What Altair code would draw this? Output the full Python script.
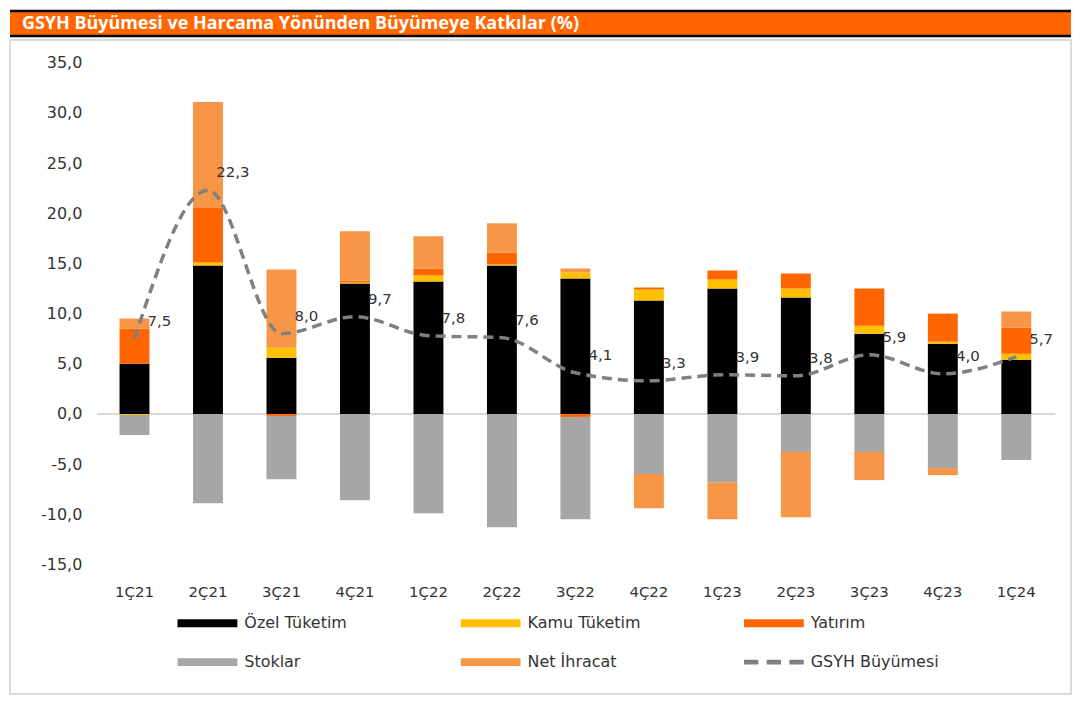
import altair as alt
import pandas as pd

title_text = "GSYH Büyümesi ve Harcama Yönünden Büyümeye Katkılar (%)"
quarters = ["1Ç21", "2Ç21", "3Ç21", "4Ç21", "1Ç22", "2Ç22", "3Ç22",
            "4Ç22", "1Ç23", "2Ç23", "3Ç23", "4Ç23", "1Ç24"]
ozel_tuketim = [5.0, 14.8, 5.6, 13.0, 13.2, 14.8, 13.5, 11.3, 12.5, 11.6, 8.0, 7.0, 5.4]
kamu_tuketim = [-0.1, 0.3, 1.0, 0.1, 0.6, 0.1, 0.6, 1.1, 0.9, 0.9, 0.8, 0.2, 0.6]
yatirim = [3.5, 5.5, -0.2, 0.2, 0.7, 1.2, -0.3, 0.2, 0.9, 1.5, 3.7, 2.8, 2.6]
stoklar = [-2.0, -8.9, -6.3, -8.6, -9.9, -11.3, -10.2, -6.0, -6.8, -3.8, -3.8, -5.4, -4.6]
net_ihracat = [1.0, 10.5, 7.8, 4.9, 3.2, 2.9, 0.4, -3.4, -3.7, -6.5, -2.8, -0.7, 1.6]
gsyh = [7.5, 22.3, 8.0, 9.7, 7.8, 7.6, 4.1, 3.3, 3.9, 3.8, 5.9, 4.0, 5.7]

series_names = ["Özel Tüketim", "Kamu Tüketim", "Yatırım", "Stoklar", "Net İhracat", "GSYH Büyümesi"]
series_colors = ["#000000", "#FFC000", "#FF6600", "#A6A6A6", "#F79646", "#808080"]
y_ticks = [-15, -10, -5, 0, 5, 10, 15, 20, 25, 30, 35]

FONT = "DejaVu Sans"
TXT = "#333333"

rows = []
for i, vals in enumerate([ozel_tuketim, kamu_tuketim, yatirim, stoklar, net_ihracat]):
    for q, v in zip(quarters, vals):
        rows.append({"quarter": q, "series": series_names[i], "idx": i, "value": v})
bars_df = pd.DataFrame(rows)

line_df = pd.DataFrame({
    "quarter": quarters,
    "value": gsyh,
    "label": [f"{v:.1f}".replace(".", ",") for v in gsyh],
})

legend_df = pd.DataFrame({"series": series_names, "idx": list(range(len(series_names)))})

W, H = 1064, 656
x_scale = alt.Scale(domain=quarters, range=[88, 1046], paddingInner=0, paddingOuter=0)
y_scale = alt.Scale(domain=[-15, 35], range=[526, 23], nice=False, zero=False)
color_scale = alt.Scale(domain=series_names, range=series_colors)

x_axis = alt.Axis(title=None, orient="bottom", offset=-(H - 553), domain=False, ticks=False,
                  tickSize=0, labelPadding=0, labelBaseline="middle", labelAngle=0,
                  labelFont=FONT, labelFontSize=15, labelColor=TXT, grid=False)
y_axis = alt.Axis(title=None, orient="left", offset=-72, domain=False, ticks=False, tickSize=0,
                  labelPadding=0, values=y_ticks, labelFont=FONT, labelFontSize=16,
                  labelColor=TXT, grid=False,
                  labelExpr="replace(replace(format(datum.value, '.1f'), '.', ','), '\u2212', '-')")

bars = alt.Chart(bars_df).mark_bar(size=30).encode(
    x=alt.X("quarter:N", scale=x_scale, axis=x_axis, sort=quarters),
    y=alt.Y("value:Q", scale=y_scale, axis=y_axis, stack="zero"),
    color=alt.Color("series:N", scale=color_scale, legend=None),
    order=alt.Order("idx:Q", sort="ascending"),
)

zero_rule = alt.Chart(line_df).mark_rule(color="#D9D9D9", strokeWidth=1.5).encode(
    y=alt.datum(0, scale=y_scale), x=alt.value(88), x2=alt.value(1048)
)

line = alt.Chart(line_df).mark_line(strokeDash=[10, 6], strokeWidth=3.5, interpolate="monotone",
                                    color=series_colors[5]).encode(
    x=alt.X("quarter:N", scale=x_scale, sort=quarters),
    y=alt.Y("value:Q", scale=y_scale),
)

labels = alt.Chart(line_df).mark_text(dx=25, dy=-18, fontSize=15, font=FONT, color=TXT).encode(
    x=alt.X("quarter:N", scale=x_scale, sort=quarters),
    y=alt.Y("value:Q", scale=y_scale),
    text="label:N",
)

plot = alt.layer(zero_rule, bars, line, labels)

# manual legend (3 columns x 2 rows)
bar_shape = "M-1,-0.13H1V0.13H-1Z"
dash_shape = "M-1,-0.08H-0.52V0.08H-1Z M-0.24,-0.08H0.24V0.08H-0.24Z M0.52,-0.08H1V0.08H0.52Z"
leg_base = alt.Chart(legend_df).transform_calculate(
    col="datum.idx % 3", row="floor(datum.idx / 3)"
)
leg_x = alt.X("col:Q", scale=alt.Scale(domain=[0, 2], range=[198, 766]), axis=None)
leg_y = alt.Y("row:Q", scale=alt.Scale(domain=[0, 1], range=[585, 624]), axis=None)
leg_symbols = leg_base.mark_point(filled=True, size=3600, opacity=1, strokeWidth=0).encode(
    x=leg_x, y=leg_y,
    color=alt.Color("series:N", scale=color_scale, legend=None),
    shape=alt.Shape("series:N", scale=alt.Scale(domain=series_names,
                                                range=[bar_shape] * 5 + [dash_shape]), legend=None),
)
leg_text = leg_base.mark_text(align="left", baseline="middle", dx=37, fontSize=16, font=FONT,
                              color=TXT).encode(x=leg_x, y=leg_y, text="series:N")
legend_layer = alt.layer(leg_symbols, leg_text)

main = alt.layer(plot, legend_layer).resolve_scale(x="independent", y="independent").properties(
    width=W, height=H, view=alt.ViewBackground(stroke="#D0D0D0", strokeWidth=1.5, fill="white")
)

title_df = pd.DataFrame({"t": [title_text]})
title_text_mark = alt.Chart(title_df).mark_text(
    align="left", baseline="middle", color="white", fontWeight="bold", fontSize=18,
    font="Open Sans"
).encode(x=alt.value(12), y=alt.value(14), text="t:N")
top_line = alt.Chart(title_df).mark_rule(color="black", strokeWidth=2.5).encode(
    x=alt.value(0), x2=alt.value(W), y=alt.value(1))
bottom_line = alt.Chart(title_df).mark_rule(color="black", strokeWidth=2.5).encode(
    x=alt.value(0), x2=alt.value(W), y=alt.value(26))
title_bar = alt.layer(title_text_mark, top_line, bottom_line).properties(
    width=W, height=27, view=alt.ViewBackground(fill="#FF6600", stroke=None)
)

chart = alt.vconcat(title_bar, main, spacing=1).properties(padding=0).configure(background="white")
chart.save("out.html", embed_options={"renderer": "svg", "actions": False})
